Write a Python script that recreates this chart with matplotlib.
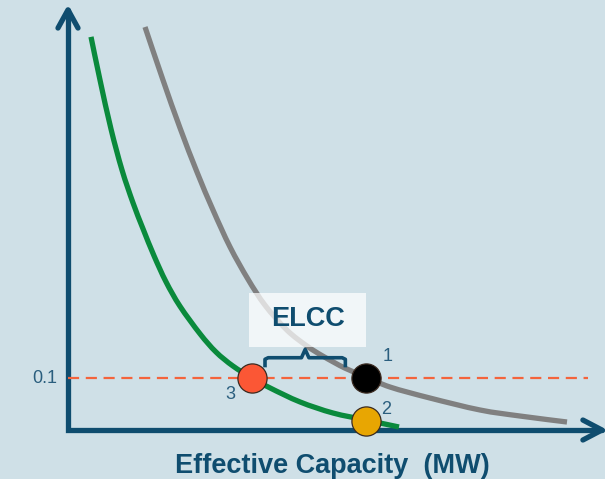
import matplotlib
matplotlib.use("Agg")
import matplotlib.pyplot as plt
from matplotlib.patches import Rectangle, PathPatch
from matplotlib.path import Path

# curves (capacity in MW, LOLE-like risk)
green_x = [4.34, 6.04, 8.11, 10.19, 12.26, 14.15, 16.23, 18.49, 21.13, 24.91, 27.92, 31.13,
           34.72, 38.11, 43.77, 50.0, 56.23, 62.45]
green_y = [0.756, 0.673, 0.579, 0.5, 0.437, 0.387, 0.335, 0.285, 0.238, 0.185, 0.150, 0.123,
           0.1, 0.081, 0.054, 0.0327, 0.0192, 0.0058]

gray_x = [14.53, 17.92, 21.13, 24.34, 27.36, 30.57, 33.96, 37.17, 41.32, 45.09, 48.11, 52.26,
          56.23, 60.75, 68.3, 77.74, 85.28, 94.15]
gray_y = [0.775, 0.673, 0.581, 0.496, 0.423, 0.352, 0.290, 0.240, 0.192, 0.1615, 0.142, 0.119,
          0.102, 0.0827, 0.0615, 0.0385, 0.0269, 0.0154]

target = 0.1
pt_x = [56.23, 56.23, 34.72]
pt_y = [0.1, 0.017, 0.1]
pt_labels = ["1", "2", "3"]
pt_colors = ["#000000", "#e8a602", "#fb5735"]

bg = "#cfe0e7"
navy = "#0f4d6f"
txt = "#2a5e7e"


def smooth_path(xs, ys):
    # catmull-rom through the read points, drawn as bezier segments
    p = list(zip(xs, ys))
    p = [p[0]] + p + [p[-1]]
    verts = [p[1]]
    codes = [Path.MOVETO]
    for i in range(1, len(p) - 2):
        p0, p1, p2, p3 = p[i - 1], p[i], p[i + 1], p[i + 2]
        c1 = (p1[0] + (p2[0] - p0[0]) / 6, p1[1] + (p2[1] - p0[1]) / 6)
        c2 = (p2[0] - (p3[0] - p1[0]) / 6, p2[1] - (p3[1] - p1[1]) / 6)
        verts += [c1, c2, p2]
        codes += [Path.CURVE4] * 3
    return Path(verts, codes)


fig = plt.figure(figsize=(6.05, 4.79), dpi=100)
fig.patch.set_facecolor(bg)
ax = fig.add_axes([0, 0, 1, 1])
ax.set_facecolor(bg)
ax.set_xlim(-12.83, 101.32)
ax.set_ylim(-0.0942, 0.8269)
ax.axis("off")

# axes with chevron heads
xtip, ytip = 100.75, 0.808
ax.plot([0, 0, xtip], [ytip, 0, 0], color=navy, lw=3.8, solid_joinstyle="miter",
        solid_capstyle="round", zorder=3)
ax.plot([-1.89, 0, 1.89], [ytip - 0.035, ytip, ytip - 0.035], color=navy, lw=3.8,
        solid_joinstyle="round", solid_capstyle="round", zorder=3)
ax.plot([xtip - 3.6, xtip, xtip - 3.6], [0.0192, 0, -0.0192], color=navy, lw=3.8,
        solid_joinstyle="round", solid_capstyle="round", zorder=3)

# target line
ax.plot([0, 98.1], [target, target], color="#f4643c", lw=1.6, dashes=(5, 3.0), zorder=4)
ax.text(-2.0, target, "0.1", ha="right", va="center", fontsize=13, color=txt,
        family="Liberation Sans")

ax.add_patch(PathPatch(smooth_path(gray_x, gray_y), fill=False, edgecolor="#808080",
                       lw=3.8, capstyle="butt", zorder=2))
ax.add_patch(PathPatch(smooth_path(green_x, green_y), fill=False, edgecolor="#0a8a3c",
                       lw=3.8, capstyle="butt", zorder=4))

# ELCC box and brace
ax.add_patch(Rectangle((34.15, 0.160), 22.05, 0.104, facecolor="white", alpha=0.72,
                       edgecolor="none", zorder=5))
ax.text(45.2, 0.213, "ELCC", ha="center", va="center", fontsize=19.5, fontweight="bold",
        color=navy, family="Liberation Sans", zorder=6)
bl, br, by = pt_x[2] + 2.45, pt_x[0] - 3.9, 0.139
mid = (bl + br) / 2
ax.plot([bl, bl, bl + 0.6, mid - 0.7, mid, mid + 0.7, br - 0.6, br, br],
        [by - 0.015, by - 0.003, by, by, by + 0.016, by, by, by - 0.003, by - 0.015],
        color=navy, lw=2.6, solid_joinstyle="round", zorder=5)

# points
offs = [(22, 22), (20, 12), (-22, -16)]
for x, y, lab, c, o in zip(pt_x, pt_y, pt_labels, pt_colors, offs):
    ax.plot(x, y, "o", ms=21, mfc=c, mec="#3a2a20", mew=0.9, zorder=7)
    ax.annotate(lab, (x, y), xytext=o, textcoords="offset pixels", ha="center", va="center",
                fontsize=13, color=txt, family="Liberation Sans", zorder=8)

ax.text(49.8, -0.069, "Effective Capacity  (MW)", ha="center", va="center", fontsize=19.5,
        fontweight="bold", color=navy, family="Liberation Sans")

fig.savefig("out.png", dpi=100, facecolor=bg)
